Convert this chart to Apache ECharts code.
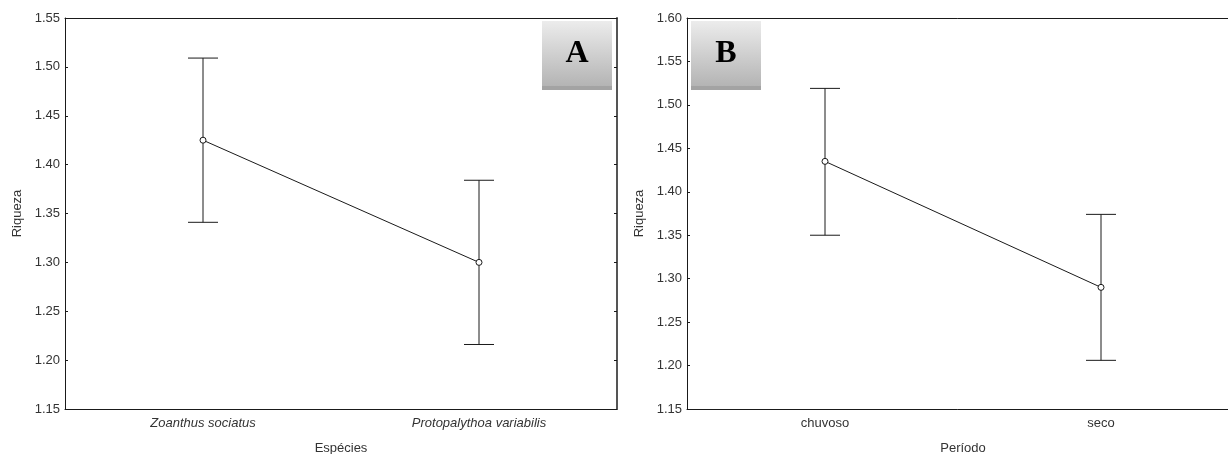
<!DOCTYPE html>
<html>
<head>
<meta charset="utf-8">
<script src="https://cdn.jsdelivr.net/npm/echarts@6/dist/echarts.min.js"></script>
<style>
html,body{margin:0;padding:0;background:#fff;}
#chart{width:1228px;height:454px;}
</style>
</head>
<body>
<div id="chart"></div>
<script>
// Panel A data
const categoriesA = ['Zoanthus sociatus', 'Protopalythoa variabilis'];
const meanA = [1.425, 1.300];
const lowerA = [1.341, 1.216];
const upperA = [1.509, 1.384];
const yTicksA = { min: 1.15, max: 1.55, interval: 0.05 };

// Panel B data
const categoriesB = ['chuvoso', 'seco'];
const meanB = [1.435, 1.290];
const lowerB = [1.350, 1.206];
const upperB = [1.519, 1.374];
const yTicksB = { min: 1.15, max: 1.60, interval: 0.05 };

const FONT = 'Liberation Sans, Arial, sans-serif';
const FS = 13;
const TXT = '#333';
const LINE = '#1a1a1a';

function errItem(params, api) {
  const x = api.value(0);
  const lo = api.coord([x, api.value(1)]);
  const hi = api.coord([x, api.value(2)]);
  const half = 15;
  const style = { stroke: LINE, lineWidth: 1, fill: null };
  return {
    type: 'group',
    children: [
      { type: 'line', shape: { x1: lo[0], y1: lo[1], x2: hi[0], y2: hi[1] }, style },
      { type: 'line', shape: { x1: lo[0] - half, y1: lo[1], x2: lo[0] + half, y2: lo[1] }, style },
      { type: 'line', shape: { x1: hi[0] - half, y1: hi[1], x2: hi[0] + half, y2: hi[1] }, style }
    ]
  };
}

function xAxes(cats, gridIndex, name, italic) {
  return [
    {
      type: 'category', gridIndex, data: cats, position: 'bottom',
      boundaryGap: true,
      axisLine: { lineStyle: { color: LINE, width: 1 } },
      axisTick: { inside: true, length: 3, alignWithLabel: true, lineStyle: { color: LINE } },
      axisLabel: { color: TXT, fontFamily: FONT, fontSize: FS, fontStyle: italic ? 'italic' : 'normal', margin: 8 },
      name, nameLocation: 'middle', nameGap: 33,
      nameTextStyle: { color: TXT, fontFamily: FONT, fontSize: FS }
    },
    {
      type: 'category', gridIndex, data: cats, position: 'top',
      boundaryGap: true,
      axisLine: { lineStyle: { color: LINE, width: 1 } },
      axisTick: { inside: true, length: 3, alignWithLabel: true, lineStyle: { color: LINE } },
      axisLabel: { show: false }
    }
  ];
}

function yAxes(t, gridIndex) {
  return [
    {
      type: 'value', gridIndex, position: 'left', min: t.min, max: t.max, interval: t.interval,
      axisLine: { show: true, lineStyle: { color: LINE, width: 1 } },
      axisTick: { show: true, inside: true, length: 3, lineStyle: { color: LINE } },
      splitLine: { show: false },
      axisLabel: { color: TXT, fontFamily: FONT, fontSize: FS, margin: 5, formatter: v => v.toFixed(2) },
      name: 'Riqueza', nameLocation: 'middle', nameGap: 41, nameRotate: 90,
      nameTextStyle: { color: TXT, fontFamily: FONT, fontSize: FS }
    },
    {
      type: 'value', gridIndex, position: 'right', min: t.min, max: t.max, interval: t.interval,
      axisLine: { show: true, lineStyle: { color: '#555', width: 2 } },
      axisTick: { show: true, inside: true, length: 3, lineStyle: { color: LINE } },
      splitLine: { show: false },
      axisLabel: { show: false }
    }
  ];
}

function panelLabel(letter, x) {
  return {
    type: 'group', left: x, top: 21,
    children: [
      { type: 'rect', shape: { x: 0, y: 65, width: 70, height: 4 }, style: { fill: '#a3a3a3' } },
      { type: 'rect', shape: { x: 0, y: 0, width: 70, height: 65 },
        style: { fill: new echarts.graphic.LinearGradient(0, 0, 0, 1, [
          { offset: 0, color: '#ececec' }, { offset: 1, color: '#b4b4b4' }]) } },
      { type: 'text', x: 35, y: 33, style: { text: letter, fill: '#000', font: 'bold 32px "Liberation Serif", "Times New Roman", serif', textAlign: 'center', textVerticalAlign: 'middle' } }
    ]
  };
}

const chart = echarts.init(document.getElementById('chart'), null, { renderer: 'canvas' });
chart.setOption({
  animation: false,
  backgroundColor: '#fff',
  grid: [
    { left: 65, top: 18, width: 552, height: 391, outerBoundsMode: 'none', containLabel: false },
    { left: 687, top: 18, width: 552, height: 391, outerBoundsMode: 'none', containLabel: false }
  ],
  xAxis: [...xAxes(categoriesA, 0, 'Espécies', true), ...xAxes(categoriesB, 1, 'Período', false)],
  yAxis: [...yAxes(yTicksA, 0), ...yAxes(yTicksB, 1)],
  series: [
    {
      type: 'custom', xAxisIndex: 0, yAxisIndex: 0,
      data: categoriesA.map((c, i) => [i, lowerA[i], upperA[i]]),
      renderItem: errItem, silent: true, z: 1
    },
    {
      type: 'line', xAxisIndex: 0, yAxisIndex: 0, data: meanA,
      symbol: 'circle', symbolSize: 6,
      lineStyle: { color: LINE, width: 1 },
      itemStyle: { color: '#fff', borderColor: LINE, borderWidth: 1 }, z: 3
    },
    {
      type: 'custom', xAxisIndex: 2, yAxisIndex: 2,
      data: categoriesB.map((c, i) => [i, lowerB[i], upperB[i]]),
      renderItem: errItem, silent: true, z: 1
    },
    {
      type: 'line', xAxisIndex: 2, yAxisIndex: 2, data: meanB,
      symbol: 'circle', symbolSize: 6,
      lineStyle: { color: LINE, width: 1 },
      itemStyle: { color: '#fff', borderColor: LINE, borderWidth: 1 }, z: 3
    }
  ],
  graphic: [panelLabel('A', 542), panelLabel('B', 691)]
});
</script>
</body>
</html>
